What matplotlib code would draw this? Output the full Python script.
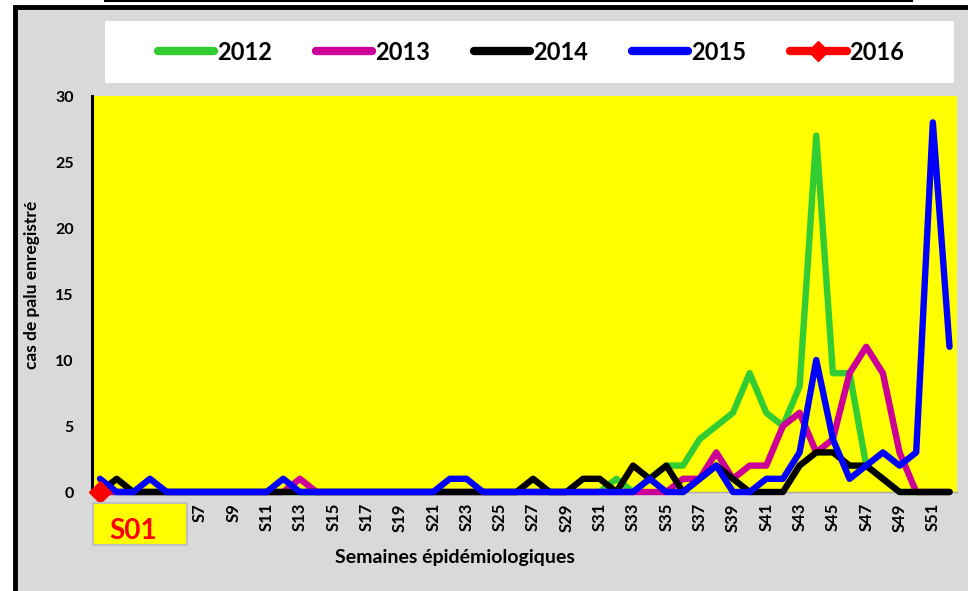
import matplotlib
matplotlib.use("Agg")
import matplotlib.pyplot as plt
from matplotlib.patches import Rectangle
from matplotlib.lines import Line2D

plt.rcParams['font.family'] = ['Lato', 'DejaVu Sans']
plt.rcParams['font.weight'] = 'bold'

# donnees (cas par semaine)
semaines = [f"S{i}" for i in range(1, 53)]
cas_2012 = [0] * 31 + [1, 0, 1, 2, 2, 4, 5, 6, 9, 6, 5, 8, 27, 9, 9, 2, 1, 0, 0, 0, 0]
cas_2013 = [0] * 12 + [1] + [0] * 22 + [1, 1, 3, 1, 2, 2, 5, 6, 3, 4, 9, 11, 9, 3, 0, 0, 0]
cas_2014 = [0, 1] + [0] * 24 + [1, 0, 0, 1, 1, 0, 2, 1, 2, 0, 1, 2, 1, 0, 0, 0,
                                2, 3, 3, 2, 2, 1, 0, 0, 0, 0]
cas_2015 = [1, 0, 0, 1, 0, 0, 0, 0, 0, 0, 0, 1, 0, 0, 0, 0, 0, 0, 0, 0, 0, 1, 1,
            0, 0, 0, 0, 0, 0, 0, 0, 0, 0, 1, 0, 0, 1, 2, 0, 0, 1, 1, 3, 10, 4, 1,
            2, 3, 2, 3, 28, 11]
cas_2016 = [0]

annees = ["2012", "2013", "2014", "2015", "2016"]
series = [cas_2012, cas_2013, cas_2014, cas_2015, cas_2016]
couleurs = ["#33CC33", "#CC0099", "#000000", "#0000FF", "#FF0000"]

W, H = 968, 591
fig = plt.figure(figsize=(W / 100, H / 100), dpi=100, facecolor="white")


def fx(px):
    return px / W


def fy(py):
    return 1 - py / H


# fond gris + bordure noire
fig.add_artist(Rectangle((fx(15), -0.1), 1.2, fy(6.5) + 0.1, transform=fig.transFigure,
                         facecolor="#D9D9D9", edgecolor="black", linewidth=3.5, zorder=-5))
fig.add_artist(Line2D([fx(105), fx(912)], [fy(1), fy(1)], transform=fig.transFigure,
                      color="black", linewidth=1.5))
# cadre blanc de la legende
fig.add_artist(Rectangle((fx(105), fy(83)), fx(954) - fx(105), fy(21) - fy(83),
                         transform=fig.transFigure, facecolor="white", edgecolor="none", zorder=-4))

ax = fig.add_axes([fx(92), fy(492), fx(957) - fx(92), fy(96) - fy(492)])
ax.set_facecolor("#FFFF00")

handles = []
for vals, lab, c in zip(series, annees, couleurs):
    x = list(range(len(vals)))
    if lab == "2016":
        ax.plot(x, vals, color=c, marker="D", markersize=11, lw=4.6, clip_on=False, zorder=4)
        handles.append(Line2D([], [], color=c, lw=6, marker="D", markersize=10,
                              solid_capstyle="round"))
    else:
        ax.plot(x, vals, color=c, lw=4.6, solid_capstyle="round", solid_joinstyle="round",
                clip_on=False, zorder=3)
        handles.append(Line2D([], [], color=c, lw=6, solid_capstyle="round"))

ax.set_xlim(-0.48, 51.45)
ax.set_ylim(0, 30)
ax.set_yticks(range(0, 31, 5))
ticks = list(range(6, 51, 2))
ax.set_xticks(ticks)
ax.set_xticklabels([semaines[i] for i in ticks], rotation=90, fontsize=12, fontweight="bold")
ax.tick_params(axis="x", length=0, pad=8)
ax.tick_params(axis="y", length=0, pad=13, labelsize=11.5)
for side in ["top", "right"]:
    ax.spines[side].set_visible(False)
ax.spines["left"].set_color("black")
ax.spines["left"].set_linewidth(2.2)
ax.spines["bottom"].set_color("#A6A6A6")
ax.spines["bottom"].set_linewidth(1)

# case S01
fig.add_artist(Rectangle((fx(93), fy(545)), fx(187) - fx(93), fy(503) - fy(545),
                         transform=fig.transFigure, facecolor="#FFFF00",
                         edgecolor="#BFBFBF", linewidth=1.5))
fig.text(fx(133), fy(531), "S01", color="#FF0000", fontsize=20, fontweight="bold",
         ha="center", va="center")

fig.text(fx(455), fy(558), "Semaines épidémiologiques", fontsize=14, fontweight="bold",
         ha="center", va="center")
fig.text(fx(32), fy(285), "cas de palu enregistré", fontsize=12.5, fontweight="bold",
         rotation=90, ha="center", va="center")

fig.legend(handles, annees, loc="center", bbox_to_anchor=(fx(531), fy(52)), ncol=5,
           frameon=False, handlelength=2.4, handletextpad=0.12,
           columnspacing=1.85, prop={"weight": "bold", "size": 17})

fig.savefig("out.png", dpi=100, facecolor="white")
